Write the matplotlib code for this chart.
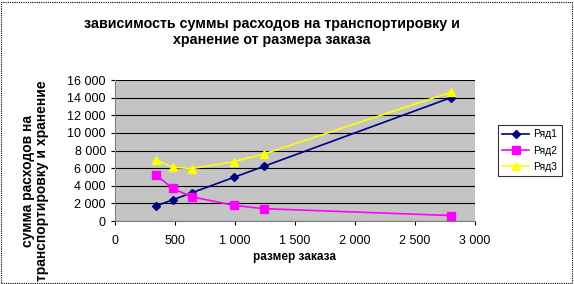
import numpy as np
import matplotlib.pyplot as plt
from matplotlib.ticker import FuncFormatter
from matplotlib.patches import Rectangle

plt.rcParams['font.family'] = ['Liberation Sans', 'DejaVu Sans']

# размер заказа
x = [340, 480, 640, 990, 1240, 2800]
# Ряд1 - хранение, Ряд2 - транспортировка, Ряд3 - сумма
rjad1 = [1700, 2400, 3200, 4950, 6200, 14000]
rjad2 = [5250, 3700, 2750, 1780, 1400, 620]
rjad3 = [6950, 6100, 5950, 6730, 7600, 14620]

fig = plt.figure(figsize=(5.74, 2.84), dpi=100)
ax = fig.add_axes([0.2003, 0.2218, 0.6272, 0.4965])
ax.set_facecolor('#c4c4c4')

ax.plot(x, rjad1, color='#000080', marker='D', markersize=4, lw=1.2, label='Ряд1', zorder=3)
ax.plot(x, rjad2, color='#ff00ff', marker='s', markersize=6, lw=1.2, label='Ряд2', zorder=3)
ax.plot(x, rjad3, color='#ffff00', marker='^', markersize=6, lw=1.2, label='Ряд3', zorder=3)

ax.set_xlim(0, 3000)
ax.set_ylim(0, 16000)
ax.set_xticks(np.arange(0, 3001, 500))
ax.set_yticks(np.arange(0, 16001, 2000))
fmt = FuncFormatter(lambda v, p: '{:,}'.format(int(v)).replace(',', ' '))
ax.xaxis.set_major_formatter(fmt)
ax.yaxis.set_major_formatter(fmt)
ax.tick_params(labelsize=9, length=3, width=0.8, colors='black')
ax.tick_params(axis='x', pad=7)
ax.grid(axis='y', color='black', lw=0.8)
ax.set_axisbelow(True)
for s in ['top', 'right']:
    ax.spines[s].set_visible(False)
ax.spines['left'].set_color('#808080')
ax.spines['bottom'].set_color('#808080')

ax.set_xlabel('размер заказа', fontsize=8.5, fontweight='bold', labelpad=3)
fig.text(0.061, 0.363, 'сумма расходов на\nтранспортировку и хранение', rotation=90,
         ha='center', va='center', fontsize=10, fontweight='bold', linespacing=1.05)
fig.text(0.474, 0.888, 'зависимость суммы расходов на транспортировку и\nхранение от размера заказа',
         ha='center', va='center', fontsize=10.3, fontweight='bold', linespacing=1.2)

leg = ax.legend(loc='center left', bbox_to_anchor=(1.05, 0.5), fontsize=7.5, frameon=True,
                fancybox=False, edgecolor='black', handlelength=2.6, borderpad=0.4,
                labelspacing=0.6, handletextpad=0.4)
leg.get_frame().set_linewidth(0.8)

fig.patches.append(Rectangle((0.002, 0.004), 0.994, 0.99, transform=fig.transFigure,
                             fill=False, edgecolor='black', lw=0.8, ls=(0, (1, 1))))

fig.savefig('out.png', dpi=100)
